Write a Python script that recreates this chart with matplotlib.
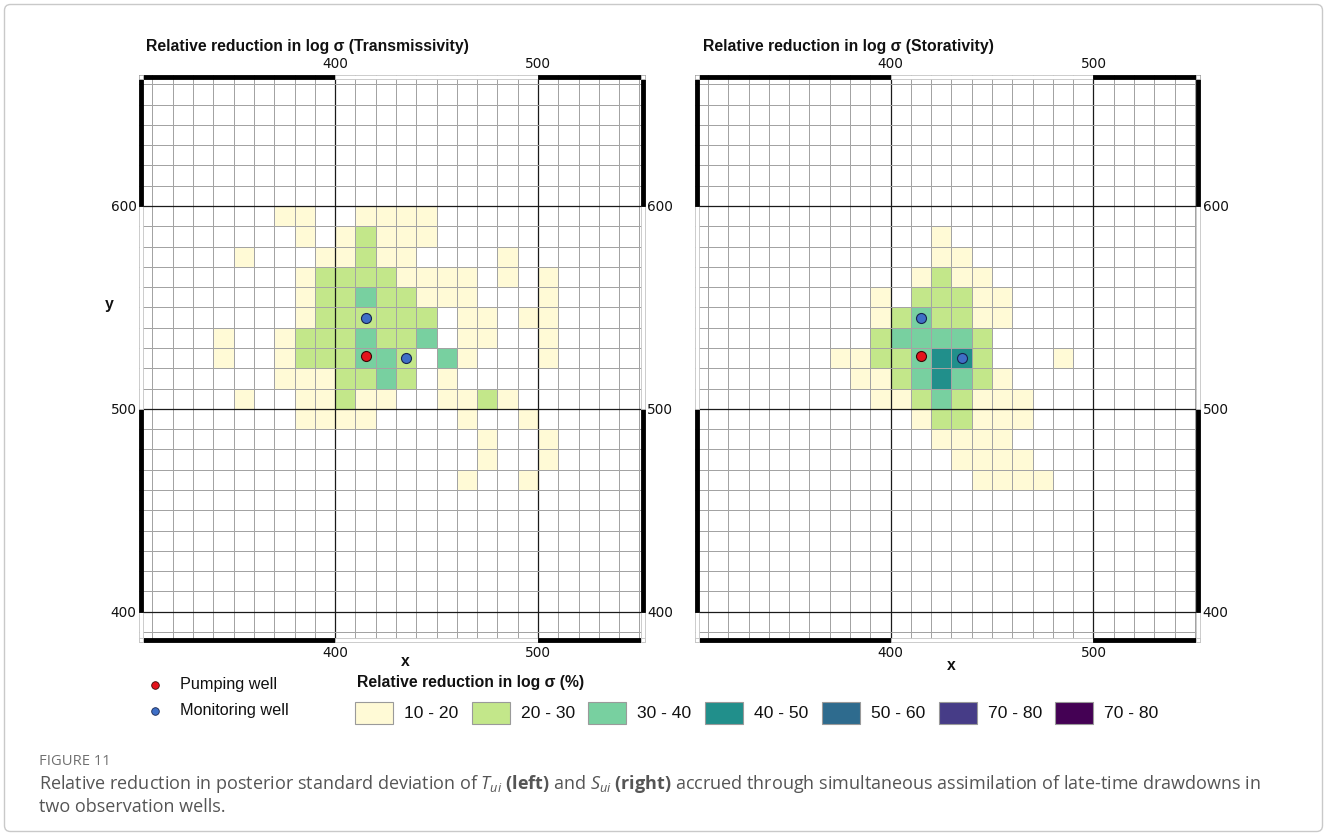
import numpy as np
import matplotlib
matplotlib.use("Agg")
import matplotlib.pyplot as plt
from matplotlib.colors import ListedColormap, BoundaryNorm
from matplotlib.patches import Rectangle, FancyBboxPatch

# ------------------------------------------------------------------ data
class_labels = ["10 - 20", "20 - 30", "30 - 40", "40 - 50", "50 - 60", "70 - 80", "70 - 80"]
class_colors = ["#FFFAD6", "#C3E78A", "#78D0A0", "#218F8B", "#2E6B8E", "#463C87", "#440154"]

# cells: (y of lower edge, class index 1..7, [x of left edges])
trans_cells = [
    (590, 1, [370, 380, 410, 420, 430, 440]),
    (580, 1, [380, 400, 420, 430, 440]), (580, 2, [410]),
    (570, 1, [350, 390, 400, 420, 430, 480]), (570, 2, [410]),
    (560, 1, [380, 430, 440, 450, 460, 480, 500]), (560, 2, [390, 400, 410, 420]),
    (550, 1, [380, 440, 450, 460, 500]), (550, 2, [390, 400, 420, 430]), (550, 3, [410]),
    (540, 1, [380, 460, 470, 490, 500]), (540, 2, [390, 400, 410, 420, 430, 440]),
    (530, 1, [340, 370, 460, 470, 500]), (530, 2, [380, 390, 400, 420, 430]), (530, 3, [410, 440]),
    (520, 1, [340, 370, 460, 500]), (520, 2, [380, 390, 400, 430]), (520, 3, [410, 420, 450]),
    (510, 1, [370, 380, 390, 450]), (510, 2, [400, 410, 430]), (510, 3, [420]),
    (500, 1, [350, 380, 390, 410, 420, 450, 460, 480]), (500, 2, [400, 470]),
    (490, 1, [380, 390, 400, 410, 460, 490]),
    (480, 1, [470, 500]),
    (470, 1, [470, 500]),
    (460, 1, [460, 490]),
]

stor_cells = [
    (580, 1, [420]),
    (570, 1, [420, 430]),
    (560, 1, [410, 430, 440]), (560, 2, [420]),
    (550, 1, [390, 440, 450]), (550, 2, [410, 420, 430]),
    (540, 1, [390, 440, 450]), (540, 2, [400, 420, 430]), (540, 3, [410]),
    (530, 2, [390, 440]), (530, 3, [400, 410, 420, 430]),
    (520, 1, [370, 380, 480]), (520, 2, [390, 400, 440]), (520, 3, [410]), (520, 4, [420, 430]),
    (510, 1, [380, 390, 450]), (510, 2, [400, 440]), (510, 3, [410, 430]), (510, 4, [420]),
    (500, 1, [390, 400, 440, 450, 460]), (500, 2, [410, 430]), (500, 3, [420]),
    (490, 1, [410, 440, 450, 460]), (490, 2, [420, 430]),
    (480, 1, [420, 430, 440, 450]),
    (470, 1, [430, 440, 450, 460]),
    (460, 1, [440, 450, 460, 470]),
]

pumping_x, pumping_y = [415], [526]
monitor_x, monitor_y = [415, 435], [545, 525]

x_ticks = [400, 500]
y_ticks = [400, 500, 600]
panel_titles = ["Relative reduction in log σ (Transmissivity)",
                "Relative reduction in log σ (Storativity)"]

# ------------------------------------------------------------------ figure
W, H = 1328, 836
fig = plt.figure(figsize=(W / 100, H / 100), dpi=100)
fig.patch.set_facecolor("white")

XLIM = (303.5, 552.5)
YLIM = (385.0, 664.7)
cell = 10
x_edges = np.arange(300, 561, cell)
y_edges = np.arange(380, 671, cell)

cmap = ListedColormap(class_colors)
norm = BoundaryNorm(np.arange(-0.5, len(class_colors) + 0.5, 1), len(class_colors))


def px_axes(left, top, right, bottom):
    return fig.add_axes([left / W, 1 - bottom / H, (right - left) / W, (bottom - top) / H])


def draw_panel(ax, cells, left_labels):
    grid = np.full((len(y_edges) - 1, len(x_edges) - 1), np.nan)
    for yb, cls, xs in cells:
        for xl in xs:
            grid[(yb - 380) // cell, (xl - 300) // cell] = cls - 1
    ax.pcolormesh(x_edges, y_edges, np.ma.masked_invalid(grid), cmap=cmap, norm=norm,
                  edgecolors="#8d8d8d", linewidth=0.6, zorder=1)
    ax.set_xlim(*XLIM)
    ax.set_ylim(*YLIM)
    ax.set_aspect("auto")
    ax.set_xticks(x_ticks)
    ax.set_yticks(y_ticks)
    ax.set_xticks(np.arange(310, 551, cell), minor=True)
    ax.set_yticks(np.arange(390, 661, cell), minor=True)
    ax.set_axisbelow(False)
    ax.grid(which="minor", color="#a6a6a6", lw=0.65, zorder=2)
    ax.grid(which="major", color="#1a1a1a", lw=0.9, zorder=2.1)
    ax.tick_params(which="both", length=0)
    ax.tick_params(axis="x", which="major", labeltop=True, labelbottom=True, pad=3.0,
                   labelsize=9.8, labelcolor="#111111")
    ax.tick_params(axis="y", which="major", labelleft=left_labels, labelright=True, pad=2.0,
                   labelsize=9.8, labelcolor="#111111")
    for s in ax.spines.values():
        s.set_visible(False)

    # alternating black/white frame
    ax_w = ax.get_position().width * W
    ax_h = ax.get_position().height * H
    tx = 4.0 / ax_w
    ty = 4.0 / ax_h
    xseg = [(XLIM[0], x_ticks[0], "black"), (x_ticks[0], x_ticks[1], "white"),
            (x_ticks[1], XLIM[1], "black")]
    yseg = [(YLIM[0], y_ticks[0], "white"), (y_ticks[0], y_ticks[1], "black"),
            (y_ticks[1], y_ticks[2], "white"), (y_ticks[2], YLIM[1], "black")]
    tr_x = ax.get_xaxis_transform()
    tr_y = ax.get_yaxis_transform()
    for a, b, c in xseg:
        for y0 in (0, 1 - ty):
            ax.add_patch(Rectangle((a, y0), b - a, ty, transform=tr_x, facecolor=c,
                                   edgecolor="#c4c4c4" if c == "white" else c,
                                   lw=0.6, zorder=6, clip_on=False))
    for a, b, c in yseg:
        for x0 in (0, 1 - tx):
            ax.add_patch(Rectangle((x0, a), tx, b - a, transform=tr_y, facecolor=c,
                                   edgecolor="#c4c4c4" if c == "white" else c,
                                   lw=0.6, zorder=6, clip_on=False))
    for cx in (0, 1 - tx):
        for cy in (0, 1 - ty):
            ax.add_patch(Rectangle((cx, cy), tx, ty, transform=ax.transAxes,
                                   facecolor="white", edgecolor="#c4c4c4", lw=0.6,
                                   zorder=7, clip_on=False))

    ax.scatter(pumping_x, pumping_y, s=52, c="#E4131B", edgecolors="#3a0808",
               linewidths=0.8, zorder=8)
    ax.scatter(monitor_x, monitor_y, s=52, c="#3E6FC6", edgecolors="#16244f",
               linewidths=0.8, zorder=8)


ax1 = px_axes(139.3, 74.7, 644.5, 642.2)
ax2 = px_axes(139.3 + 555.5, 74.7, 644.5 + 555.5, 642.2)
draw_panel(ax1, trans_cells, True)
draw_panel(ax2, stor_cells, False)

# overlay in pixel coordinates for texts / legend
ov = fig.add_axes([0, 0, 1, 1], zorder=-1)
ov.set_xlim(0, W)
ov.set_ylim(H, 0)
ov.axis("off")
ov.patch.set_alpha(0)

ov.add_patch(FancyBboxPatch((4.5, 4.5), W - 10, H - 9,
                            boxstyle="round,pad=0,rounding_size=6",
                            facecolor="none", edgecolor="#c9c9c9", lw=1.0))

title_font = dict(family="Liberation Sans", weight="bold", size=11.3, color="#111111")
ov.text(146, 47, panel_titles[0], ha="left", va="center", **title_font)
ov.text(703, 47, panel_titles[1], ha="left", va="center", **title_font)

ov.text(405, 661, "x", ha="center", va="center", **title_font)
ov.text(951, 665, "x", ha="center", va="center", **title_font)
ov.text(109, 304, "y", ha="center", va="center", **title_font)

# legend: wells
ov.scatter([155], [685], s=30, c="#E4131B", edgecolors="#3a0808", linewidths=0.6)
ov.scatter([155], [711], s=30, c="#3E6FC6", edgecolors="#16244f", linewidths=0.6)
leg_font = dict(family="Liberation Sans", size=11.7, color="#111111")
ov.text(180, 685, "Pumping well", ha="left", va="center", **leg_font)
ov.text(180, 711, "Monitoring well", ha="left", va="center", **leg_font)

# legend: classes
ov.text(357, 682, "Relative reduction in log σ (%)", ha="left", va="center", **title_font)
for i, (lab, col) in enumerate(zip(class_labels, class_colors)):
    x0 = 355 + i * 116.7
    ov.add_patch(Rectangle((x0, 702), 38, 22, facecolor=col, edgecolor="#9a9a9a", lw=0.8))
    ov.text(x0 + 49, 713, lab, ha="left", va="center",
            family="Liberation Sans", size=12.6, color="#111111")

# caption
plt.rcParams["mathtext.fontset"] = "custom"
plt.rcParams["mathtext.rm"] = "Open Sans"
plt.rcParams["mathtext.it"] = "Open Sans:italic"
plt.rcParams["mathtext.bf"] = "Open Sans:bold"
ov.text(39, 765, "FIGURE 11", ha="left", va="baseline", family="Open Sans",
        size=10.6, color="#707070")
cap1 = (r"Relative reduction in posterior standard deviation of $T_{ui}$ $\mathbf{(left)}$ "
        r"and $S_{ui}$ $\mathbf{(right)}$ accrued through simultaneous assimilation of "
        r"late-time drawdowns in")
ov.text(39, 789, cap1, ha="left", va="baseline", family="Open Sans", size=13.0,
        color="#555555")
ov.text(39, 812, "two observation wells.", ha="left", va="baseline", family="Open Sans",
        size=13.0, color="#555555")

fig.savefig("out.png", dpi=100, facecolor="white")
